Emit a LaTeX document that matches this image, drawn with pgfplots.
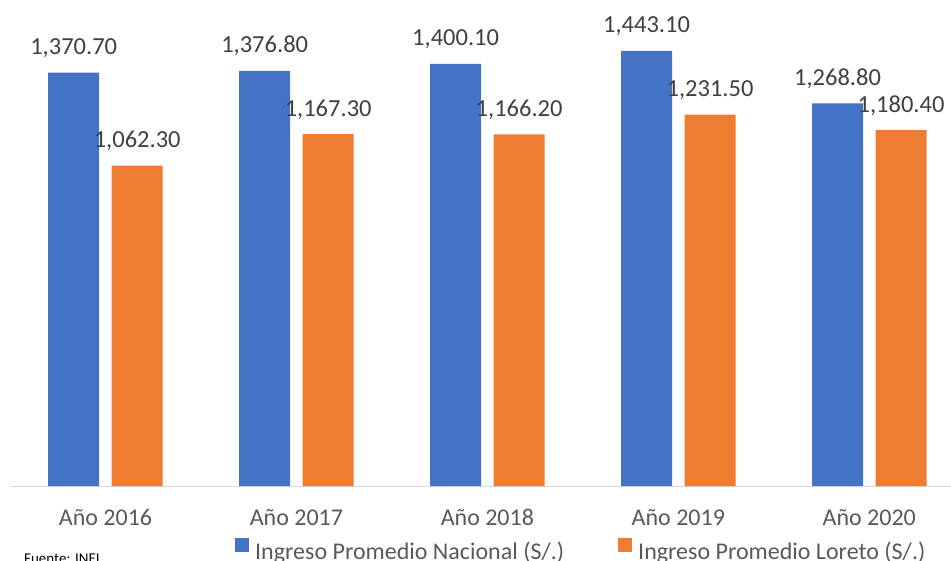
\documentclass[border=0pt]{standalone}
\usepackage{pgfplots}
\pgfplotsset{compat=1.18}
\usepackage{fontspec}
\setmainfont{Carlito}
\definecolor{cblue}{HTML}{4472C4}
\definecolor{corange}{HTML}{ED7D31}
\definecolor{tgrey}{HTML}{595959}
\definecolor{lgrey}{HTML}{404040}
\definecolor{axgrey}{HTML}{D9D9D9}
\begin{document}
\begin{tikzpicture}
\useasboundingbox (0,0) rectangle (951pt,560pt);
\begin{axis}[
  at={(10pt,74pt)}, anchor=south west,
  scale only axis, width=941pt, height=486pt,
  xmin=-0.5, xmax=4.428, ymin=0, ymax=1612,
  clip=false,
  ybar,
  axis y line=none, axis x line=bottom,
  x axis line style={-, draw=axgrey, line width=1pt},
  xtick={0,1,2,3,4},
  xticklabels={Año 2016, Año 2017, Año 2018, Año 2019, Año 2020},
  major tick length=0pt,
  xticklabel style={font=\fontsize{24}{28}\selectfont, text=tgrey, anchor=base, inner sep=0pt, yshift=-39pt},
  nodes near coords={\pgfmathprintnumber[fixed,fixed zerofill,precision=2,1000 sep={,},assume math mode=true]{\pgfplotspointmeta}},
  nodes near coords style={font=\fontsize{24.5}{29}\selectfont, text=lgrey, anchor=base, inner sep=0pt, yshift=18pt},
  legend columns=2,
  legend image code/.code={\fill (0pt,-0.5pt) rectangle (14pt,13pt);},
  legend style={at={(axis description cs:0.2391,-0.1307)}, anchor=west, draw=none, fill=none, inner sep=0pt,
    font=\fontsize{24}{28}\selectfont, text=tgrey, nodes={inner sep=0pt},
    /tikz/every odd column/.append style={column sep=6pt},
    /tikz/every even column/.append style={column sep=54pt}},
]
\addplot[ybar, bar width=51pt, bar shift=-31.75pt, fill=cblue, draw=none]
  coordinates {(0,1370.7) (1,1376.8) (2,1400.1) (3,1443.1) (4,1268.8)};
\addplot[ybar, bar width=51pt, bar shift=31.75pt, fill=corange, draw=none]
  coordinates {(0,1062.3) (1,1167.3) (2,1166.2) (3,1231.5) (4,1180.4)};
\legend{Ingreso Promedio Nacional (S/.), Ingreso Promedio Loreto (S/.)}
\end{axis}
\node[anchor=base west, font=\fontsize{15}{18}\selectfont, inner sep=0pt] at (24pt,-3pt) {Fuente: INEI};
\end{tikzpicture}
\end{document}
